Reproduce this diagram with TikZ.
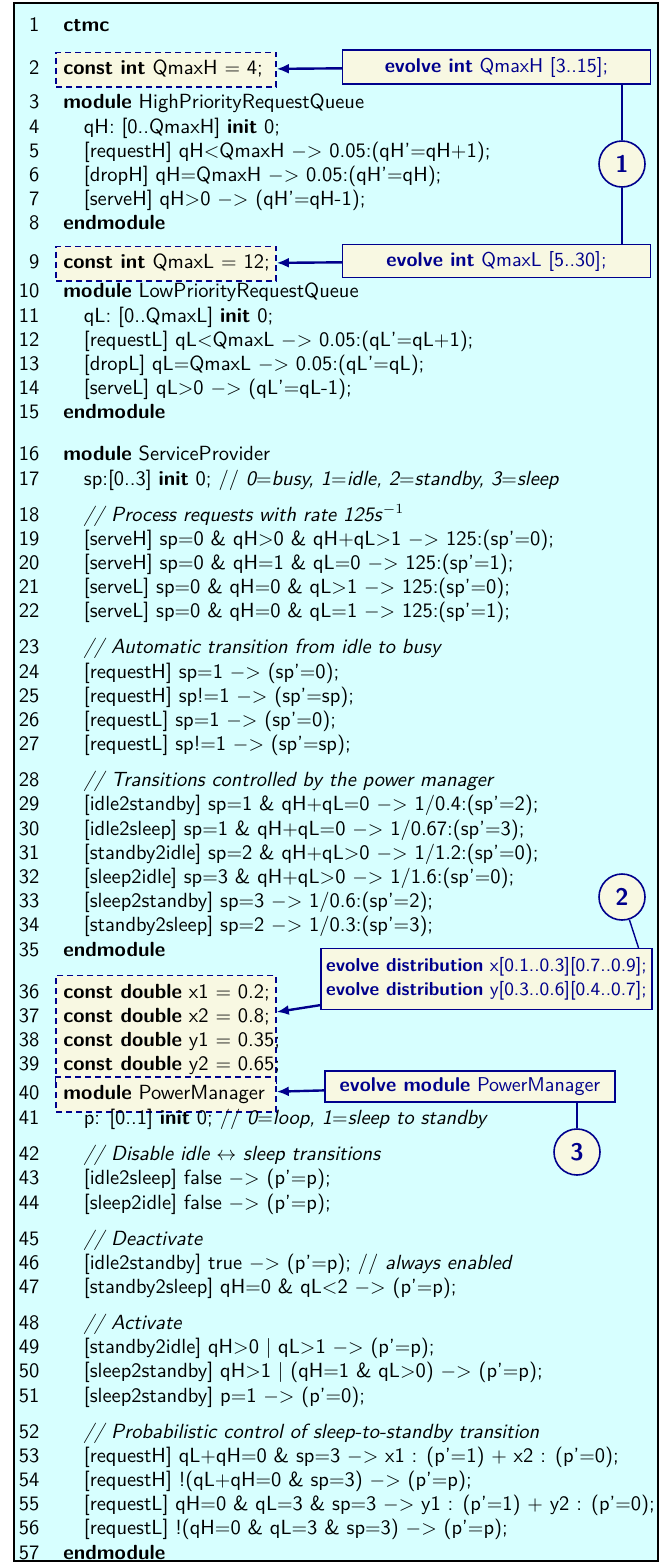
\documentclass[tikz,border=0pt]{standalone}
\usetikzlibrary{matrix, fit, backgrounds, arrows.meta}

\definecolor{codebg}{RGB}{215,255,255}
\definecolor{notebg}{RGB}{248,248,226}
\definecolor{evblue}{RGB}{0,0,140}

\newcommand{\goesto}{\ensuremath{-{>}}}

\begin{document}
\begin{tikzpicture}[x=0.5pt, y=-0.5pt,
    every node/.style={font=\sffamily},
    codeline/.style={inner sep=0pt, text height=8pt, text depth=3pt,
        font=\sffamily\fontsize{10.25pt}{12.3pt}\selectfont},
    hlbox/.style={draw=evblue, fill=notebg, dash pattern=on 3pt off 2pt,
        line width=0.8pt, inner xsep=3.5pt, inner ysep=3pt},
    evbox/.style={draw=evblue, fill=notebg, text=evblue, line width=0.7pt},
    numcirc/.style={circle, draw=evblue, fill=notebg, text=evblue,
        font=\sffamily\bfseries\large, minimum size=23pt, inner sep=0pt, line width=0.8pt},
    evarrow/.style={draw=evblue, line width=1.2pt, -{Latex[length=6pt,width=5pt]}},
    link/.style={draw=evblue, line width=0.7pt}]

    \useasboundingbox (0,0) rectangle (670,1564);

    \matrix (m) [matrix of nodes,
        nodes in empty cells,
        nodes={codeline},
        column 1/.style={anchor=base east},
        column 2/.style={anchor=base west},
        column sep=12pt, row sep=1.1pt,
        anchor=north west, inner sep=0pt
        %nodes=draw
    ] at (18.5,15.4)
    {
    1  & \textbf{ctmc} \\[9.4pt]
    2  & \textbf{const int} QmaxH $=$ 4; \\[4.9pt]
    3  & \textbf{module} HighPriorityRequestQueue \\
    4  & \quad qH: [0..QmaxH] \textbf{init} 0; \\
    5  & \quad [requestH] qH$<$QmaxH \goesto{} 0.05:(qH'$=$qH$+$1); \\
    6  & \quad [dropH] qH$=$QmaxH \goesto{} 0.05:(qH'$=$qH); \\
    7  & \quad [serveH] qH$>$0 \goesto{} (qH'$=$qH-1); \\
    8  & \textbf{endmodule} \\[7.4pt]
    9  & \textbf{const int} QmaxL $=$ 12; \\[2.4pt]
    10 & \textbf{module} LowPriorityRequestQueue \\
    11 & \quad qL: [0..QmaxL] \textbf{init} 0; \\
    12 & \quad [requestL] qL$<$QmaxL \goesto{} 0.05:(qL'$=$qL$+$1); \\
    13 & \quad [dropL] qL$=$QmaxL \goesto{} 0.05:(qL'$=$qL); \\
    14 & \quad [serveL] qL$>$0 \goesto{} (qL'$=$qL-1); \\
    15 & \textbf{endmodule} \\[8.9pt]
    16 & \textbf{module} ServiceProvider \\
    17 & \quad sp:[0..3] \textbf{init} 0; // \textit{0$=$busy, 1$=$idle, 2$=$standby, 3$=$sleep} \\[5.9pt]
    18 & \quad\textit{// Process requests with rate 125s}$^{-1}$ \\
    19 & \quad [serveH] sp$=$0 \& qH$>$0 \& qH$+$qL$>$1 \goesto{} 125:(sp'$=$0); \\
    20 & \quad [serveH] sp$=$0 \& qH$=$1 \& qL$=$0 \goesto{} 125:(sp'$=$1); \\
    21 & \quad [serveL] sp$=$0 \& qH$=$0 \& qL$>$1 \goesto{} 125:(sp'$=$0); \\
    22 & \quad [serveL] sp$=$0 \& qH$=$0 \& qL$=$1 \goesto{} 125:(sp'$=$1); \\[5.9pt]
    23 & \quad\textit{// Automatic transition from idle to busy} \\
    24 & \quad [requestH] sp$=$1 \goesto{} (sp'$=$0); \\
    25 & \quad [requestH] sp!$=$1 \goesto{} (sp'$=$sp); \\
    26 & \quad [requestL] sp$=$1 \goesto{} (sp'$=$0); \\
    27 & \quad [requestL] sp!$=$1 \goesto{} (sp'$=$sp); \\[5.9pt]
    28 & \quad\textit{// Transitions controlled by the power manager} \\
    29 & \quad [idle2standby] sp$=$1 \& qH$+$qL$=$0 \goesto{} 1/0.4:(sp'$=$2); \\
    30 & \quad [idle2sleep] sp$=$1 \& qH$+$qL$=$0 \goesto{} 1/0.67:(sp'$=$3); \\
    31 & \quad [standby2idle] sp$=$2 \& qH$+$qL$>$0 \goesto{} 1/1.2:(sp'$=$0); \\
    32 & \quad [sleep2idle] sp$=$3 \& qH$+$qL$>$0 \goesto{} 1/1.6:(sp'$=$0); \\
    33 & \quad [sleep2standby] sp$=$3 \goesto{} 1/0.6:(sp'$=$2); \\
    34 & \quad [standby2sleep] sp$=$2 \goesto{} 1/0.3:(sp'$=$3); \\
    35 & \textbf{endmodule} \\[8.9pt]
    36 & \textbf{const double} x1 $=$ 0.2; \\
    37 & \textbf{const double} x2 $=$ 0.8; \\
    38 & \textbf{const double} y1 $=$ 0.35; \\
    39 & \textbf{const double} y2 $=$ 0.65; \\[2.4pt]
    40 & \textbf{module} PowerManager \\[0.4pt]
    41 & \quad p: [0..1] \textbf{init} 0; // \textit{0$=$loop, 1$=$sleep to standby} \\[5.9pt]
    42 & \quad\textit{// Disable idle $\leftrightarrow$ sleep transitions} \\
    43 & \quad [idle2sleep] false \goesto{} (p'$=$p); \\
    44 & \quad [sleep2idle] false \goesto{} (p'$=$p); \\[5.9pt]
    45 & \quad\textit{// Deactivate} \\
    46 & \quad [idle2standby] true \goesto{} (p'$=$p); // \textit{always enabled} \\
    47 & \quad [standby2sleep] qH$=$0 \& qL$<$2 \goesto{} (p'$=$p); \\[5.9pt]
    48 & \quad\textit{// Activate} \\
    49 & \quad [standby2idle] qH$>$0 $|$ qL$>$1 \goesto{} (p'$=$p); \\
    50 & \quad [sleep2standby] qH$>$1 $|$ (qH$=$1 \& qL$>$0) \goesto{} (p'$=$p); \\
    51 & \quad [sleep2standby] p$=$1 \goesto{} (p'$=$0); \\[5.9pt]
    52 & \quad\textit{// Probabilistic control of sleep-to-standby transition} \\
    53 & \quad [requestH] qL$+$qH$=$0 \& sp$=$3 \goesto{} x1 : (p'$=$1) $+$ x2 : (p'$=$0); \\
    54 & \quad [requestH] !(qL$+$qH$=$0 \& sp$=$3) \goesto{} (p'$=$p); \\
    55 & \quad [requestL] qH$=$0 \& qL$=$3 \& sp$=$3 \goesto{} y1 : (p'$=$1) $+$ y2 : (p'$=$0); \\
    56 & \quad [requestL] !(qH$=$0 \& qL$=$3 \& sp$=$3) \goesto{} (p'$=$p); \\
    57 & \textbf{endmodule} \\
    };

    \begin{scope}[on background layer]
        \draw[fill=codebg, line width=1pt] (14,3) rectangle (658,1561);
        \coordinate (hlR) at (269,0);
        \node[hlbox, fit=(m-2-2.north west)(hlR |- m-2-2.south)] (cstQH) {};
        \node[hlbox, fit=(m-9-2.north west)(hlR |- m-9-2.south)] (cstQL) {};
        \node[hlbox, fit=(m-36-2.north west)(hlR |- m-39-2.south)] (cstXY) {};
        \node[hlbox, fit=(m-40-2.north west)(hlR |- m-40-2.south)] (cstPM) {};
    \end{scope}

    \node[evbox, minimum width=154pt, minimum height=17pt] (evQH) at (496.5,67)
        {\textbf{evolve int} QmaxH [3..15];};
    \node[evbox, minimum width=154pt, minimum height=16pt] (evQL) at (496.5,261)
        {\textbf{evolve int} QmaxL [5..30];};
    \node[numcirc] (c1) at (622,164) {1};
    \node[evbox, align=left, inner xsep=2.5pt, inner ysep=4.5pt,
        font=\sffamily\fontsize{9.4pt}{12pt}\selectfont] (evXY) at (486.5,979)
        {\textbf{evolve distribution} x[0.1..0.3][0.7..0.9];\\
         \textbf{evolve distribution} y[0.3..0.6][0.4..0.7];};
    \node[numcirc] (c2) at (622,897) {2};
    \node[evbox, minimum width=145pt, minimum height=15.5pt] (evPM) at (470,1086.5)
        {\textbf{evolve module} PowerManager};
    \node[numcirc] (c3) at (577,1152) {3};

    \draw[evarrow] (evQH) -- (cstQH);
    \draw[evarrow] (evQL) -- (cstQL);
    \draw[evarrow] (evXY) -- (cstXY);
    \draw[evarrow] (evPM) -- (cstPM);
    \draw[link] (evQH.south -| c1) -- (c1);
    \draw[link] (c1) -- (c1 |- evQL.north);
    \draw[link] (c2) -- ([xshift=-7pt]evXY.north east);
    \draw[link] (c3) -- (c3 |- evPM.south);

\end{tikzpicture}
\end{document}
